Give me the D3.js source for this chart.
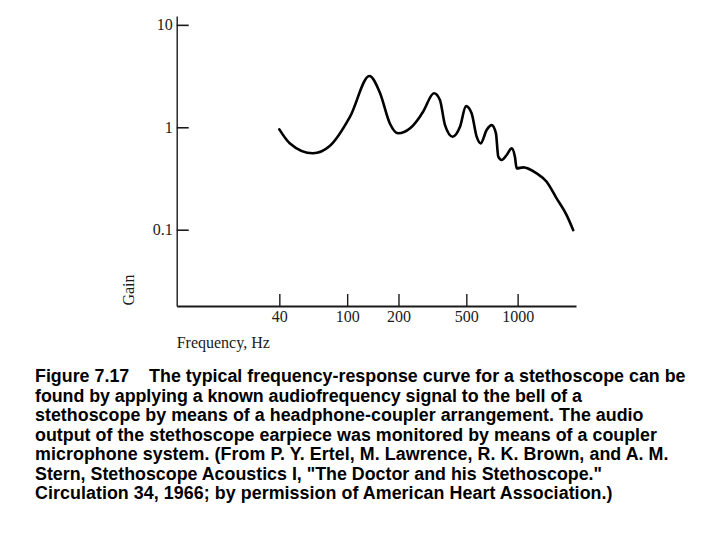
<!DOCTYPE html>
<html>
<head>
<meta charset="utf-8">
<script src="https://cdn.jsdelivr.net/npm/d3@7"></script>
<style>
  html, body { margin: 0; padding: 0; background: #fff; }
  svg { display: block; }
  text.cap { white-space: pre; }
</style>
</head>
<body>
<svg id="chart" width="720" height="540"></svg>
<script>
// ---- data ----
const frequencyHz = [40, 46, 63, 79, 104, 135, 156, 178, 199, 234, 267, 279, 323, 350, 375, 416, 459, 498, 537, 575, 607, 658, 704, 746, 770, 806, 862, 922, 964, 987, 1079, 1293, 1480, 1693, 1938, 2120];
const gain        = [0.955, 0.70, 0.557, 0.656, 1.27, 3.17, 2.15, 1.09, 0.873, 0.977, 1.27, 1.42, 2.15, 1.85, 1.05, 0.809, 1.01, 1.61, 1.37, 0.809, 0.697, 0.94, 1.05, 0.873, 0.516, 0.479, 0.536, 0.623, 0.516, 0.397, 0.406, 0.355, 0.294, 0.202, 0.139, 0.099];
const xTickValues = [40, 100, 200, 500, 1000];
const yTickValues = [0.1, 1, 10];
const yTickLabels = ["0.1", "1", "10"];
const xDomain = [10, 2200];
const yDomain = [0.018, 12.2];
const xAxisTitle = "Frequency, Hz";
const yAxisTitle = "Gain";
const captionLines = [
  "Figure 7.17    The typical frequency-response curve for a stethoscope can be",
  "found by applying a known audiofrequency signal to the bell of a",
  "stethoscope by means of a headphone-coupler arrangement. The audio",
  "output of the stethoscope earpiece was monitored by means of a coupler",
  "microphone system. (From P. Y. Ertel, M. Lawrence, R. K. Brown, and A. M.",
  "Stern, Stethoscope Acoustics I, \"The Doctor and his Stethoscope.\"",
  "Circulation 34, 1966; by permission of American Heart Association.)"
];

// ---- layout (not data) ----
const captionX = 35;
const captionLineEnds = [685.5, 582, 643.5, 657, 668.5, 602, 612.5];
const svg = d3.select("#chart");
const plotLeft = 176.7, plotRight = 576, plotTop = 16, plotBottom = 306;
const serif = "'Liberation Serif', 'Times New Roman', serif";
const ink = "#1a1a1a";

const x = d3.scaleLog().domain(xDomain).range([plotLeft, plotRight]);
const y = d3.scaleLog().domain(yDomain).range([plotBottom, plotTop]);

// y axis
const yAxis = d3.axisLeft(y)
  .tickValues(yTickValues)
  .tickFormat((d, i) => yTickLabels[i])
  .tickSizeInner(-12)
  .tickSizeOuter(0)
  .tickPadding(4);
const gy = svg.append("g").attr("transform", `translate(${plotLeft},0)`).call(yAxis);
gy.select(".domain").attr("stroke", ink).attr("stroke-width", 1.4);
gy.selectAll(".tick line").attr("stroke", ink).attr("stroke-width", 1.6);
gy.selectAll(".tick text").attr("font-family", serif).attr("font-size", 16).attr("fill", ink);

// x axis
const xAxis = d3.axisBottom(x)
  .tickValues(xTickValues)
  .tickFormat(d3.format("d"))
  .tickSizeInner(-12)
  .tickSizeOuter(0)
  .tickPadding(5);
const gx = svg.append("g").attr("transform", `translate(0,${plotBottom})`).call(xAxis);
gx.select(".domain").attr("stroke", ink).attr("stroke-width", 2.2);
gx.selectAll(".tick line").attr("stroke", ink).attr("stroke-width", 1.4);
gx.selectAll(".tick text").attr("font-family", serif).attr("font-size", 16).attr("fill", ink);

// axis titles
svg.append("text")
  .attr("x", plotLeft).attr("y", 348)
  .attr("font-family", serif).attr("font-size", 16).attr("fill", ink)
  .text(xAxisTitle);
svg.append("text")
  .attr("transform", `translate(134,290) rotate(-90)`)
  .attr("text-anchor", "middle")
  .attr("font-family", serif).attr("font-size", 16).attr("fill", ink)
  .text(yAxisTitle);

// curve
const pts = frequencyHz.map((f, i) => [f, gain[i]]);
const line = d3.line()
  .x(d => x(d[0]))
  .y(d => y(d[1]))
  .curve(d3.curveMonotoneX);
svg.append("path")
  .datum(pts)
  .attr("d", line)
  .attr("fill", "none")
  .attr("stroke", "#000")
  .attr("stroke-width", 2.6)
  .attr("stroke-linejoin", "round")
  .attr("stroke-linecap", "round");

// caption
const cap = svg.append("g")
  .attr("font-family", "'Liberation Sans', Arial, sans-serif")
  .attr("font-weight", "bold")
  .attr("fill", "#000");
const capTexts = cap.selectAll("text")
  .data(captionLines)
  .join("text")
  .attr("class", "cap")
  .attr("xml:space", "preserve")
  .attr("x", captionX)
  .attr("y", (d, i) => 382 + i * 19.5)
  .attr("font-size", 18)
  .text(d => d);
// fit the first line to the reference width, then match each line's extent
const w0 = capTexts.nodes()[0].getComputedTextLength();
const fs = 18 * (captionLineEnds[0] - captionX) / w0;
capTexts.attr("font-size", fs)
  .attr("textLength", (d, i) => captionLineEnds[i] - captionX)
  .attr("lengthAdjust", "spacing");
</script>
</body>
</html>
